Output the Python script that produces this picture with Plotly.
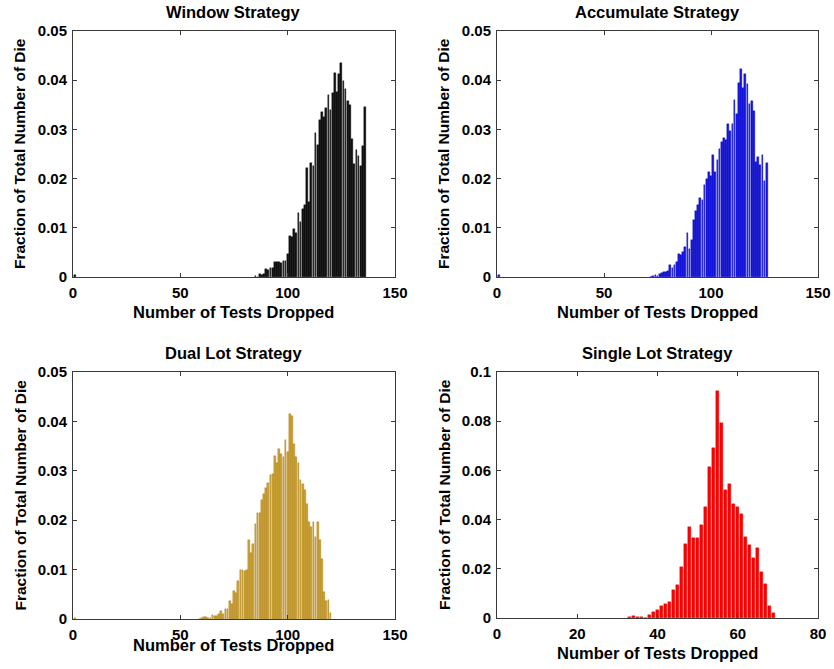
import plotly.graph_objects as go

# ---------------- data ----------------
window_x = [1] + list(range(85, 137))
window_y = [0.0004,
            0.0003, 0.0001, 0.0007, 0.0005, 0.0007, 0.0016, 0.0014, 0.0019, 0.0018, 0.0031,
            0.0031, 0.0030, 0.0028, 0.0033, 0.0033, 0.0047, 0.0084, 0.0082, 0.0098, 0.0090,
            0.0130, 0.0112, 0.0138, 0.0146, 0.0221, 0.0152, 0.0232, 0.0226, 0.0293, 0.0269,
            0.0320, 0.0336, 0.0326, 0.0343, 0.0370, 0.0340, 0.0374, 0.0414, 0.0376, 0.0412,
            0.0434, 0.0398, 0.0383, 0.0358, 0.0350, 0.0281, 0.0230, 0.0259, 0.0246, 0.0226,
            0.0266, 0.0345]

accum_x = [1] + list(range(72, 127))
accum_y = [0.0004,
           0.0001, 0.0002, 0.0004, 0.0003, 0.0007, 0.0008, 0.0011, 0.0011, 0.0013, 0.0024,
           0.0019, 0.0024, 0.0030, 0.0046, 0.0045, 0.0051, 0.0060, 0.0089, 0.0057, 0.0076,
           0.0115, 0.0135, 0.0146, 0.0161, 0.0157, 0.0186, 0.0199, 0.0214, 0.0205, 0.0248,
           0.0214, 0.0237, 0.0260, 0.0275, 0.0283, 0.0278, 0.0311, 0.0296, 0.0312, 0.0359,
           0.0332, 0.0394, 0.0423, 0.0385, 0.0412, 0.0393, 0.0351, 0.0357, 0.0337, 0.0234,
           0.0244, 0.0227, 0.0247, 0.0196, 0.0232]

dual_x = [1] + list(range(59, 121))
dual_y = [0.0003,
          0.0001, 0.0002, 0.0004, 0.0004, 0.0002, 0.0002, 0.0008, 0.0007, 0.0007, 0.0011,
          0.0016, 0.0011, 0.0020, 0.0020, 0.0036, 0.0030, 0.0057, 0.0053, 0.0076, 0.0099,
          0.0099, 0.0097, 0.0099, 0.0159, 0.0134, 0.0152, 0.0192, 0.0214, 0.0214, 0.0241,
          0.0254, 0.0265, 0.0275, 0.0291, 0.0294, 0.0330, 0.0315, 0.0345, 0.0335, 0.0327,
          0.0362, 0.0339, 0.0414, 0.0410, 0.0354, 0.0327, 0.0315, 0.0281, 0.0273, 0.0262,
          0.0232, 0.0196, 0.0187, 0.0196, 0.0167, 0.0196, 0.0160, 0.0121, 0.0055, 0.0037,
          0.0038, 0.0013]

single_x = list(range(33, 70))
single_y = [0.0004, 0.0009, 0.0004, 0.0005, 0.0000, 0.0013, 0.0023, 0.0031, 0.0047, 0.0055,
            0.0066, 0.0115, 0.0136, 0.0206, 0.0300, 0.0370, 0.0324, 0.0324, 0.0377, 0.0452,
            0.0614, 0.0690, 0.0922, 0.0792, 0.0522, 0.0544, 0.0462, 0.0453, 0.0422, 0.0328,
            0.0298, 0.0242, 0.0285, 0.0186, 0.0140, 0.0047, 0.0019]

titles = ["Window Strategy", "Accumulate Strategy", "Dual Lot Strategy", "Single Lot Strategy"]
x_label = "Number of Tests Dropped"
y_label = "Fraction of Total Number of Die"

x_ticks_a = [0, 50, 100, 150]
x_ticks_b = [0, 20, 40, 60, 80]
y_ticks_a = [0, 0.01, 0.02, 0.03, 0.04, 0.05]
y_ticks_a_text = ["0", "0.01", "0.02", "0.03", "0.04", "0.05"]
y_ticks_b = [0, 0.02, 0.04, 0.06, 0.08, 0.1]
y_ticks_b_text = ["0", "0.02", "0.04", "0.06", "0.08", "0.1"]

# ---------------- figure ----------------
W, H = 834, 669
FONT = "Liberation Sans, Arial, sans-serif"

fig = go.Figure()

panels = [
    dict(x=window_x, y=window_y, fill="#111111", line="#000000", xr=[0, 150], xt=x_ticks_a,
         yr=[0, 0.05], yt=y_ticks_a, ytt=y_ticks_a_text, px=(73, 395), py=(31, 277)),
    dict(x=accum_x, y=accum_y, fill="#1616e0", line="#0000b8", xr=[0, 150], xt=x_ticks_a,
         yr=[0, 0.05], yt=y_ticks_a, ytt=y_ticks_a_text, px=(497, 818), py=(31, 277)),
    dict(x=dual_x, y=dual_y, fill="#c9a23a", line="#a87a00", xr=[0, 150], xt=x_ticks_a,
         yr=[0, 0.05], yt=y_ticks_a, ytt=y_ticks_a_text, px=(73, 395), py=(372, 619)),
    dict(x=single_x, y=single_y, fill="#ff0000", line="#cc0000", xr=[0, 80], xt=x_ticks_b,
         yr=[0, 0.1], yt=y_ticks_b, ytt=y_ticks_b_text, px=(497, 818), py=(372, 618)),
]

axis_common = dict(showgrid=False, zeroline=False, showline=True, linecolor="#3a3a3a",
                   linewidth=1, mirror="allticks", ticks="inside", ticklen=4,
                   tickcolor="#3a3a3a", tickfont=dict(family=FONT, size=15, color="#000000", weight="bold"))

for i, p in enumerate(panels):
    n = "" if i == 0 else str(i + 1)
    fig.add_trace(go.Bar(x=p["x"], y=p["y"], width=0.8,
                         marker=dict(color=p["fill"], line=dict(color=p["line"], width=0.4)),
                         xaxis="x" + n, yaxis="y" + n, showlegend=False))
    xd = [p["px"][0] / W, p["px"][1] / W]
    yd = [1 - p["py"][1] / H, 1 - p["py"][0] / H]
    fig.update_layout(**{
        "xaxis" + n: dict(domain=xd, range=p["xr"], tickvals=p["xt"], anchor="y" + n,
                          ticklabelstandoff=2, **axis_common),
        "yaxis" + n: dict(domain=yd, range=p["yr"], tickvals=p["yt"], ticktext=p["ytt"],
                          anchor="x" + n, ticklabelstandoff=2, **axis_common),
    })
    cx = (p["px"][0] + p["px"][1]) / 2 / W
    ann = dict(xref="paper", yref="paper", showarrow=False, xanchor="center", yanchor="middle")
    # title
    fig.add_annotation(text=titles[i], x=cx, y=1 - (p["py"][0] - 19) / H, **ann,
                       font=dict(family=FONT, size=16.5, color="#000000", weight="bold"))
    # x label
    xl_y = p["py"][1] + 35 if i != 2 else p["py"][1] + 26
    fig.add_annotation(text=x_label, x=cx, y=1 - xl_y / H, **ann,
                       font=dict(family=FONT, size=16.5, color="#000000", weight="bold"))
    # y label
    fig.add_annotation(text=y_label, x=(p["px"][0] - 53) / W,
                       y=1 - ((p["py"][0] + p["py"][1]) / 2) / H, textangle=-90, **ann,
                       font=dict(family=FONT, size=15.5, color="#000000", weight="bold"))

fig.update_layout(width=W, height=H, margin=dict(l=0, r=0, t=0, b=0, autoexpand=False),
                  paper_bgcolor="white", plot_bgcolor="white", bargap=0)

fig.write_html("out.html", config={"displayModeBar": False},
               post_script="document.body.style.margin='0';")
